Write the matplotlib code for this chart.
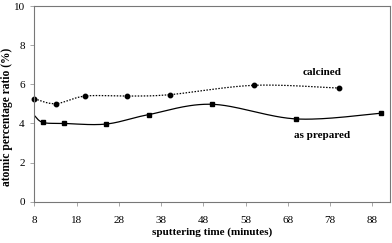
import numpy as np
import matplotlib.pyplot as plt

# sputtering time (minutes) and atomic percentage ratio (%)
prep_t = [8, 10, 15, 25, 35, 50, 70, 90]
prep_v = [4.4, 4.05, 4.0, 3.97, 4.45, 4.98, 4.23, 4.52]
calc_t = [8, 13, 20, 30, 40, 60, 80]
calc_v = [5.26, 5.01, 5.40, 5.40, 5.47, 5.95, 5.81]
xticks = [8, 18, 28, 38, 48, 58, 68, 78, 88]
yticks = [0, 2, 4, 6, 8, 10]


def smooth(x, y, n=30):
    # catmull-rom style smoothing, like a spreadsheet "smoothed line"
    x = np.asarray(x, float)
    y = np.asarray(y, float)
    px = np.concatenate([[x[0]], x, [x[-1]]])
    py = np.concatenate([[y[0]], y, [y[-1]]])
    xs, ys = [], []
    t = np.linspace(0, 1, n)
    for i in range(1, len(px) - 2):
        p0, p1, p2, p3 = [np.array([px[j], py[j]]) for j in range(i - 1, i + 3)]
        c1 = p1 + (p2 - p0) / 6
        c2 = p2 - (p3 - p1) / 6
        b = (np.outer((1 - t) ** 3, p1) + np.outer(3 * (1 - t) ** 2 * t, c1)
             + np.outer(3 * (1 - t) * t ** 2, c2) + np.outer(t ** 3, p2))
        xs.extend(b[:, 0])
        ys.extend(b[:, 1])
    return xs, ys


plt.rcParams['font.family'] = 'Liberation Serif'
fig = plt.figure(figsize=(3.92, 2.43), dpi=100)
ax = fig.add_axes([0.088, 0.170, 0.907, 0.805])

sx, sy = smooth(prep_t, prep_v)
ax.plot(sx, sy, color='black', lw=0.9)
ax.plot(prep_t[1:], prep_v[1:], 's', color='black', ms=3.0, ls='none')

cx, cy = smooth(calc_t, calc_v)
ax.plot(cx, cy, color='black', lw=0.9, ls=(0, (1.2, 1.2)))
ax.plot(calc_t, calc_v, 'o', color='black', ms=3.2, ls='none', clip_on=False)

ax.text(76, 6.6, 'calcined', fontsize=8, fontweight='bold', ha='center', va='center')
ax.text(76, 3.4, 'as prepared', fontsize=8, fontweight='bold', ha='center', va='center')

ax.set_xlim(8, 92.2)
ax.set_ylim(0, 10)
ax.set_xticks(xticks)
ax.set_yticks(yticks)
ax.tick_params(axis='both', labelsize=8, length=3, width=0.6, color='#999999')
ax.tick_params(axis='x', pad=7)
ax.tick_params(axis='y', pad=4)
ax.set_xlabel('sputtering time (minutes)', fontsize=8, fontweight='bold', va='center')
ax.set_ylabel('atomic percentage ratio (%)', fontsize=8.3, fontweight='bold', va='center')
ax.xaxis.set_label_coords(0.5, -0.155)
ax.yaxis.set_label_coords(-0.077, 0.433)
for s in ax.spines.values():
    s.set_color('#777777')
    s.set_linewidth(0.8)

fig.savefig('out.png', dpi=100)
